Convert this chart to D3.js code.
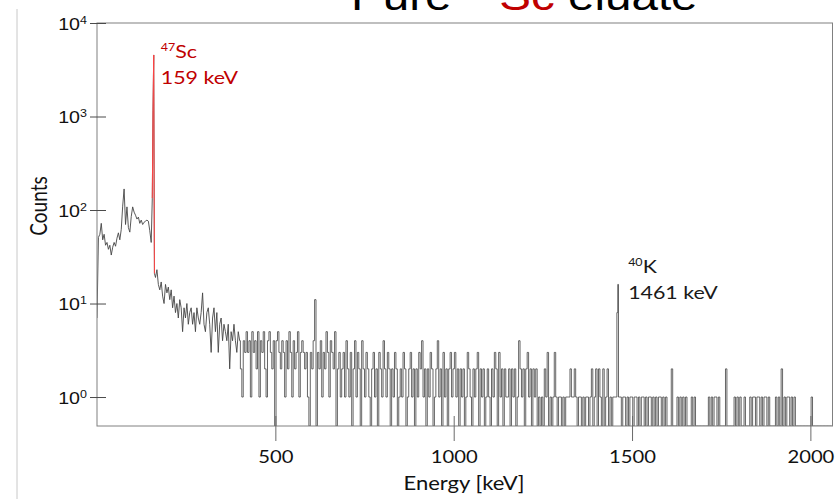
<!DOCTYPE html>
<html>
<head>
<meta charset="utf-8">
<script src="https://cdn.jsdelivr.net/npm/d3@7"></script>
<style>
  html, body { margin: 0; padding: 0; background: #ffffff; }
  svg { display: block; }
  text { white-space: pre; }
</style>
</head>
<body>
<svg id="chart" width="835" height="499"></svg>
<script>
// Gamma spectrum of the 47Sc eluate: counts per 4 keV channel (log scale)
const channelWidth = 4;

// 0–152 keV: low-energy region incl. Pb X-rays
const lowStart = 0;
const lowCounts = [7, 51, 55, 72, 48, 55, 42, 45, 38, 42, 33, 40, 45, 41, 50, 57, 48, 62, 110, 168,
  70, 108, 65, 58, 85, 108, 95, 88, 80, 84, 72, 78, 70, 74, 76, 78, 76, 60, 45];

// 47Sc photopeak at 159 keV
const scPeakEnergy = [155, 157, 159, 161];
const scPeakCounts = [134, 1150, 4550, 21];

// 164–396 keV: Compton continuum
const continuumStart = 164;
const continuumCounts = [19, 23, 16, 14, 17, 12, 10, 16, 13, 15, 11, 14, 9, 12, 8, 10, 7, 11, 9, 5,
  9, 7, 10, 6, 8, 9, 6, 8, 5, 9, 7, 6, 8, 13, 6, 5, 8, 9, 6, 3,
  7, 9, 5, 8, 3, 6, 7, 4, 6, 5, 4, 6, 2, 5, 4, 6, 4, 3, 5];

// 400–996 keV
const midStart = 400;
const midCounts = [
  4, 2, 1, 4, 3, 5, 3, 4, 1, 5, 3, 4, 2, 5, 1, 4, 3, 5, 2, 1, 4, 5, 3, 2, 4,
  0, 4, 5, 3, 2, 4, 3, 1, 4, 2, 5, 3, 1, 4, 2, 3, 5, 1, 3, 4, 3, 2, 3, 1, 0,
  3, 2, 4, 11, 0, 3, 2, 4, 1, 3, 2, 5, 3, 1, 4, 3, 2, 5, 0, 2, 3, 1, 2, 3, 1,
  4, 2, 1, 3, 0, 2, 4, 1, 3, 2, 0, 4, 2, 1, 3, 2, 1, 0, 2, 3, 1, 2, 0, 3, 2,
  1, 4, 2, 1, 3, 2, 0, 2, 1, 3, 2, 0, 1, 2, 1, 3, 2, 0, 1, 2, 3, 1, 2, 0, 2,
  1, 3, 2, 4, 1, 2, 0, 2, 1, 3, 2, 0, 1, 2, 4, 1, 2, 0, 3, 1, 2, 0, 2, 3, 1];

// 1000–1456 keV
const highStart = 1000;
const highCounts = [
  2, 3, 1, 2, 0, 2, 1, 2, 0, 1, 3, 2, 1, 0, 2, 1, 2, 3, 0, 2, 1, 2, 0, 1, 2,
  1, 0, 2, 1, 3, 2, 0, 3, 1, 2, 0, 2, 1, 1, 2, 0, 2, 1, 2, 0, 1, 4, 2, 1, 2,
  0, 2, 3, 1, 2, 0, 2, 1, 2, 0, 1, 0, 1, 0, 2, 1, 3, 0, 1, 0, 1, 3, 1, 0, 1,
  1, 0, 1, 0, 1, 1, 1, 2, 1, 1, 2, 1, 0, 1, 1, 0, 1, 0, 1, 1, 0, 1, 2, 0, 1,
  2, 0, 2, 1, 0, 2, 0, 1, 2, 0, 1, 0, 1, 1, 1];

// 40K line at 1461 keV
const kPeakEnergy = [1459, 1461, 1463];
const kPeakCounts = [8, 16, 1];

// 1468–2060 keV
const tailStart = 1468;
const tailCounts = [
  1, 0, 1, 1, 0, 1, 0, 1, 1, 0, 1, 1, 0, 1, 0, 1, 1, 0, 1, 0, 1, 1, 0, 1, 0,
  1, 0, 1, 1, 0, 1, 0, 1, 0, 0, 0, 2, 0, 0, 0, 1, 0, 1, 0, 1, 0, 1, 0, 0, 0,
  1, 0, 1, 0, 0, 0, 0, 0, 0, 0, 0, 0, 1, 0, 1, 0, 1, 1, 0, 1, 0, 0, 0, 0, 2,
  0, 0, 0, 0, 0, 1, 0, 1, 0, 1, 0, 0, 1, 0, 0, 0, 1, 0, 1, 1, 0, 1, 1, 0, 1,
  0, 1, 1, 0, 1, 0, 0, 0, 0, 1, 0, 1, 0, 2, 0, 1, 0, 1, 1, 0, 1, 0, 1, 0, 0,
  0, 0, 0, 0, 0, 0, 0, 0, 0, 1, 0, 0, 0, 0, 0, 0, 0, 0, 0, 0, 0, 0, 0, 0];

const yTickValues = [1, 10, 100, 1000, 10000];
const yTickExponents = ["0", "1", "2", "3", "4"];
const xTickValues = [500, 1000, 1500, 2000];

const peakLabels = [
  { energy: 159, mass: "47", element: "Sc", text: "159 keV", color: "#c00000", dx: 7 },
  { energy: 1461, mass: "40", element: "K", text: "1461 keV", color: "#1a1a1a", dx: 10 }
];

// ---- assemble spectrum points [energy, counts] ----
function channels(start, counts) {
  return counts.map((c, i) => [start + i * channelWidth, c]);
}
const scPeak = scPeakEnergy.map((e, i) => [e, scPeakCounts[i]]);
// high-count part (drawn as a polyline) and sparse part (drawn as steps)
const spectrumLow = [].concat(
  channels(lowStart, lowCounts),
  scPeak,
  channels(continuumStart, continuumCounts),
  [[midStart, midCounts[0]]]
);
const spectrumHigh = [].concat(
  channels(midStart, midCounts),
  channels(highStart, highCounts),
  kPeakEnergy.map((e, i) => [e, kPeakCounts[i]]),
  channels(tailStart, tailCounts)
);

// ---- layout ----
const svg = d3.select("#chart");
const plot = { left: 97, right: 832.5, top: 23, bottom: 426 };
const sx = 1.19; // horizontal text stretch

const x = d3.scaleLinear().domain([0, 2062]).range([plot.left, plot.right]);
const y = d3.scaleLog().domain([0.49, 1e4]).range([plot.bottom, plot.top]).clamp(true);

const sansFont = "'Liberation Sans', Arial, sans-serif";
const labelFont = "Lato, 'Open Sans', sans-serif";

// slide separator on the left
svg.append("line")
  .attr("x1", 17).attr("x2", 17).attr("y1", 9).attr("y2", 499)
  .attr("stroke", "#c8c8c8").attr("stroke-width", 1);

// title (partly above the visible area)
const title = svg.append("text")
  .attr("transform", `translate(351,10) scale(${sx},1)`)
  .attr("font-family", sansFont).attr("font-size", 40).attr("fill", "#000");
title.append("tspan").text("Pure ");
title.append("tspan").text("47").attr("fill", "#c00000").attr("font-size", 26).attr("dy", -15);
title.append("tspan").text("Sc").attr("fill", "#c00000").attr("dy", 15);
title.append("tspan").text(" eluate");

// clip for the data
svg.append("clipPath").attr("id", "plotClip")
  .append("rect")
  .attr("x", plot.left).attr("y", plot.top)
  .attr("width", plot.right - plot.left).attr("height", plot.bottom - plot.top);

const yOf = d => d[1] > 0 ? y(d[1]) : plot.bottom;
const polyLine = d3.line().x(d => x(d[0])).y(yOf);
const stepLine = d3.line().x(d => x(d[0])).y(yOf).curve(d3.curveStep);

svg.append("path")
  .datum(spectrumLow)
  .attr("clip-path", "url(#plotClip)")
  .attr("d", polyLine)
  .attr("fill", "none")
  .attr("stroke", "#454545")
  .attr("stroke-width", 0.9);

svg.append("path")
  .datum(spectrumHigh)
  .attr("clip-path", "url(#plotClip)")
  .attr("d", stepLine)
  .attr("fill", "none")
  .attr("stroke", "#4a4a4a")
  .attr("stroke-width", 0.85);

svg.append("path")
  .datum(scPeak)
  .attr("clip-path", "url(#plotClip)")
  .attr("d", polyLine)
  .attr("fill", "none")
  .attr("stroke", "#ff4444")
  .attr("stroke-width", 1);

// frame
svg.append("rect")
  .attr("x", plot.left).attr("y", plot.top)
  .attr("width", plot.right - plot.left).attr("height", plot.bottom - plot.top)
  .attr("fill", "none").attr("stroke", "#808080").attr("stroke-width", 1);

// y axis
const yAxis = svg.append("g")
  .attr("transform", `translate(${plot.left},0)`)
  .call(d3.axisLeft(y).tickValues(yTickValues).tickSize(0).tickFormat(""));
yAxis.select(".domain").remove();
yAxis.selectAll(".tick line")
  .attr("x1", -7).attr("x2", 9).attr("stroke", "#4a4a4a");
yAxis.selectAll(".tick").each(function (d, i) {
  const t = d3.select(this).append("text")
    .attr("transform", `translate(-10,6) scale(${sx},1)`)
    .attr("text-anchor", "end")
    .attr("font-family", sansFont).attr("font-size", 16.5).attr("fill", "#111");
  t.append("tspan").text("10");
  t.append("tspan").text(yTickExponents[i]).attr("font-size", 10.5).attr("dy", -6);
});

// x axis
const xAxis = svg.append("g")
  .attr("transform", `translate(0,${plot.bottom})`)
  .call(d3.axisBottom(x).tickValues(xTickValues).tickSize(0).tickFormat(""));
xAxis.select(".domain").remove();
xAxis.selectAll(".tick line")
  .attr("y1", -10).attr("y2", 15).attr("stroke", "#6a6a6a");
xAxis.selectAll(".tick").append("text")
  .attr("transform", `translate(0,37) scale(${sx},1)`)
  .attr("text-anchor", "middle")
  .attr("font-family", labelFont).attr("font-size", 17).attr("fill", "#111")
  .text(d => d);

// axis titles
svg.append("text")
  .attr("transform", `translate(47,206) scale(${sx},1) rotate(-90)`)
  .attr("text-anchor", "middle")
  .attr("font-family", labelFont).attr("font-size", 19).attr("fill", "#111")
  .text("Counts");

svg.append("text")
  .attr("transform", `translate(464,490) scale(${sx},1)`)
  .attr("text-anchor", "middle")
  .attr("font-family", labelFont).attr("font-size", 18.5).attr("fill", "#111")
  .text("Energy [keV]");

// peak annotations
peakLabels.forEach(p => {
  const px = x(p.energy) + p.dx;
  const topY = p.energy < 500 ? 58 : 273;
  const iso = svg.append("text")
    .attr("transform", `translate(${px},${topY}) scale(${sx},1)`)
    .attr("font-family", labelFont).attr("font-size", 18).attr("fill", p.color);
  iso.append("tspan").text(p.mass).attr("font-size", 10.5).attr("dy", -7);
  iso.append("tspan").text(p.element).attr("dy", 7);
  svg.append("text")
    .attr("transform", `translate(${px},${topY + 25.5}) scale(${sx},1)`)
    .attr("font-family", labelFont).attr("font-size", 18).attr("fill", p.color)
    .text(p.text);
});
</script>
</body>
</html>
